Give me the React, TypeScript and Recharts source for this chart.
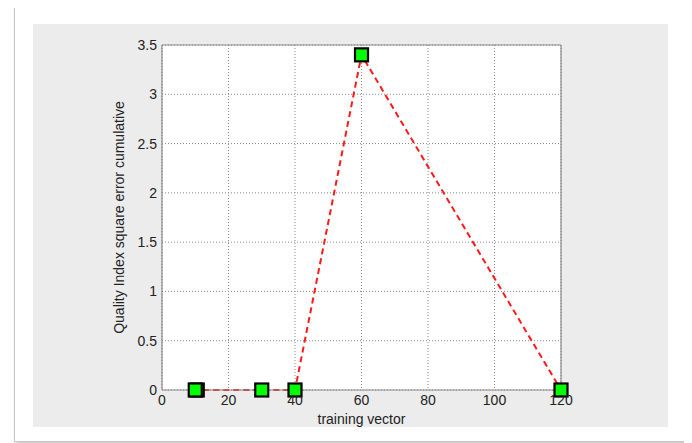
import React from 'react';
import { LineChart, Line, XAxis, YAxis, CartesianGrid, ReferenceLine, Label } from 'recharts';

const trainingVector = [10.6, 10, 30, 40, 60, 120];
const qualityIndex = [0, 0, 0, 0, 3.4, 0];
const xTicks = [0, 20, 40, 60, 80, 100, 120];
const yTicks = [0, 0.5, 1, 1.5, 2, 2.5, 3, 3.5];

const data = trainingVector.map((x, i) => ({ x, y: qualityIndex[i] }));

const FONT = '"Liberation Sans", Arial, sans-serif';

const SquareDot = (props: any) => {
  const { cx, cy, index } = props;
  if (cx == null || cy == null) return <g key={`d${index}`} />;
  const s = 13;
  return (
    <rect
      key={`d${index}`}
      x={cx - s / 2}
      y={cy - s / 2}
      width={s}
      height={s}
      fill="#00ff00"
      stroke="#000"
      strokeWidth={2.2}
    />
  );
};

export default function App() {
  return (
    <div style={{ position: 'relative', width: 692, height: 443, margin: '-8px 0 0 -8px', background: '#fff', overflow: 'hidden' }}>
      <div
        style={{
          position: 'absolute',
          left: 14,
          top: 5,
          width: 670,
          height: 435,
          border: '1px solid #c8c8c8',
          boxShadow: '2px 2px 4px rgba(0,0,0,0.25)',
          background: '#fff',
        }}
      />
      <div style={{ position: 'absolute', left: 33, top: 24, width: 635, height: 403, background: '#ececec' }}>
        <LineChart
          width={635}
          height={403}
          data={data}
          margin={{ top: 21, right: 107, left: 0, bottom: 0 }}
          style={{ fontFamily: FONT }}
        >
          <CartesianGrid stroke="#8a8a8a" strokeDasharray="1 2" fill="#ffffff" vertical horizontal />
          <XAxis
            dataKey="x"
            type="number"
            domain={[0, 120]}
            ticks={xTicks}
            height={37}
            tickLine={false}
            tickSize={3}
            tickMargin={2}
            axisLine={{ stroke: '#8a8a8a', strokeWidth: 1.2 }}
            tick={{ fill: '#222', fontSize: 14, fontFamily: FONT }}
            interval={0}
          >
            <Label value="training vector" position="insideBottom" offset={3} style={{ fill: '#222', fontSize: 14, fontFamily: FONT }} />
          </XAxis>
          <YAxis
            type="number"
            domain={[0, 3.5]}
            ticks={yTicks}
            width={129}
            tickLine={false}
            tickSize={3}
            tickMargin={2}
            axisLine={{ stroke: '#8a8a8a', strokeWidth: 1.2 }}
            tick={{ fill: '#222', fontSize: 14, fontFamily: FONT }}
            interval={0}
          >
            <Label
              value="Quality Index square error cumulative"
              angle={-90}
              position="insideLeft"
              offset={86}
              style={{ textAnchor: 'middle', fill: '#222', fontSize: 14, fontFamily: FONT }}
            />
          </YAxis>
          <ReferenceLine y={3.5} stroke="#8a8a8a" strokeWidth={1.2} />
          <ReferenceLine x={120} stroke="#8a8a8a" strokeWidth={1.2} />
          <Line
            type="linear"
            dataKey="y"
            stroke="#ff1a1a"
            strokeWidth={2}
            strokeDasharray="6 4"
            dot={SquareDot}
            activeDot={false}
            isAnimationActive={false}
          />
        </LineChart>
      </div>
    </div>
  );
}
